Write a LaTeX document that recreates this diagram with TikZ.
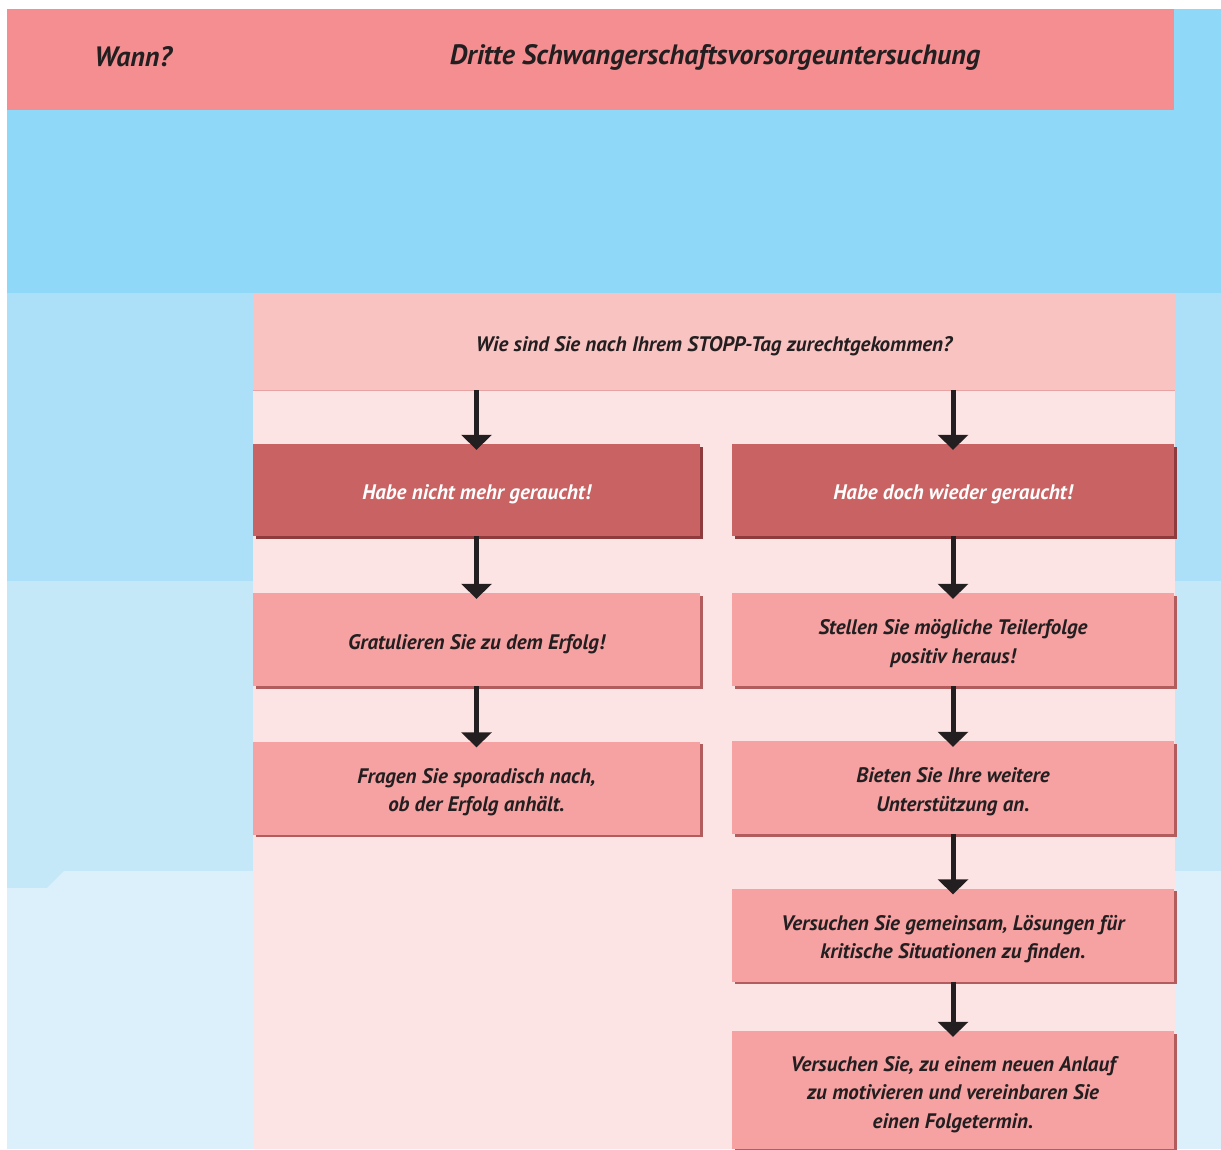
\documentclass[tikz,border=0pt]{standalone}
\usepackage{fontspec}
\setmainfont{PT Sans}
\usetikzlibrary{arrows.meta,shadows}

\definecolor{headpink}{HTML}{F48E91}
\definecolor{bandblue}{HTML}{90D8F7}
\definecolor{blueA}{HTML}{ACE0F9}
\definecolor{blueB}{HTML}{C5E8F9}
\definecolor{blueC}{HTML}{DCF0FC}
\definecolor{panelpink}{HTML}{FDE4E4}
\definecolor{qpink}{HTML}{F9C3C2}
\definecolor{qline}{HTML}{E9A2A2}
\definecolor{darkbox}{HTML}{C96262}
\definecolor{darkshade}{HTML}{8F3B3D}
\definecolor{pinkbox}{HTML}{F6A1A2}
\definecolor{pinkshade}{HTML}{B25C5E}
\definecolor{ink}{HTML}{231F20}

% struts that fix the height of the first line and the depth of the last line
\newcommand\firststrut{\rule{0pt}{24pt}}
\newcommand\laststrut{\rule[-5pt]{0pt}{0pt}}

\tikzset{
  txt/.style={font=\fontsize{21}{28.5}\selectfont\bfseries\itshape, text=ink, align=center, inner sep=0pt},
  headtxt/.style={font=\fontsize{28}{32}\selectfont\bfseries\itshape, text=ink, inner sep=0pt},
  qbox/.style={txt, fill=qpink, minimum width=922pt, minimum height=97pt},
  darkstep/.style={txt, text=white, fill=darkbox, minimum height=92pt,
    drop shadow={shadow xshift=2.5pt, shadow yshift=-2.5pt, opacity=1, fill=darkshade}},
  pinkstep/.style={txt, fill=pinkbox, minimum height=93pt,
    drop shadow={shadow xshift=2.5pt, shadow yshift=-2.5pt, opacity=1, fill=pinkshade}},
  leftcol/.style={minimum width=447pt},
  rightcol/.style={minimum width=442pt},
  arr/.style={draw=ink, line width=5pt, shorten >=-6pt,
    -{Triangle[width=30pt,length=15pt]}},
}

\begin{document}
\begin{tikzpicture}[x=1pt,y=-1pt]
\useasboundingbox (0,0) rectangle (1221,1149);
\fill[white] (0,0) rectangle (1221,1149);

% background bands
\fill[bandblue] (7,9) rectangle (1221,293);
\fill[headpink] (7,9) rectangle (1174,110);
\fill[blueA] (7,293) rectangle (1221,581);
\fill[blueB] (7,581) rectangle (1221,888);
\fill[blueC] (7,888) -- (47,888) -- (64,871) -- (1221,871) -- (1221,1149) -- (7,1149) -- cycle;

% panel behind the flow chart
\fill[panelpink] (253,293) rectangle (1175,1149);

% header
\node[headtxt] (wann) at (133,57) {Wann?};
\node[headtxt] (title) at (715,57) {Dritte Schwangerschaftsvorsorgeuntersuchung};

% question
\node[qbox] (q) at (714,341.5) {\firststrut Wie sind Sie nach Ihrem STOPP-Tag zurechtgekommen?\laststrut};
\draw[qline, line width=1.2pt] (q.south west) -- (q.south east);

% left branch
\node[darkstep, leftcol] (l1) at (476.5,490) {\firststrut Habe nicht mehr geraucht!\laststrut};
\node[pinkstep, leftcol] (l2) at (476.5,639.5) {\firststrut Gratulieren Sie zu dem Erfolg!\laststrut};
\node[pinkstep, leftcol] (l3) at (476.5,788) {\firststrut Fragen Sie sporadisch nach,\\ob der Erfolg anhält.\laststrut};

% right branch
\node[darkstep, rightcol] (r1) at (953,490) {\firststrut Habe doch wieder geraucht!\laststrut};
\node[pinkstep, rightcol] (r2) at (953,639.5) {\firststrut Stellen Sie mögliche Teilerfolge\\positiv heraus!\laststrut};
\node[pinkstep, rightcol] (r3) at (953,787.5) {\firststrut Bieten Sie Ihre weitere\\Unterstützung an.\laststrut};
\node[pinkstep, rightcol] (r4) at (953,935) {\firststrut Versuchen Sie gemeinsam, Lösungen für\\kritische Situationen zu finden.\laststrut};
\node[pinkstep, rightcol, minimum height=118pt] (r5) at (953,1090) {\firststrut Versuchen Sie, zu einem neuen Anlauf\\zu motivieren und vereinbaren Sie\\einen Folgetermin.\laststrut};

% connectors
\draw[arr] (q.south -| l1.north) -- (l1.north);
\draw[arr] (q.south -| r1.north) -- (r1.north);
\draw[arr] (l1.south) -- (l2.north);
\draw[arr] (l2.south) -- (l3.north);
\draw[arr] (r1.south) -- (r2.north);
\draw[arr] (r2.south) -- (r3.north);
\draw[arr] (r3.south) -- (r4.north);
\draw[arr] (r4.south) -- (r5.north);
\end{tikzpicture}
\end{document}
